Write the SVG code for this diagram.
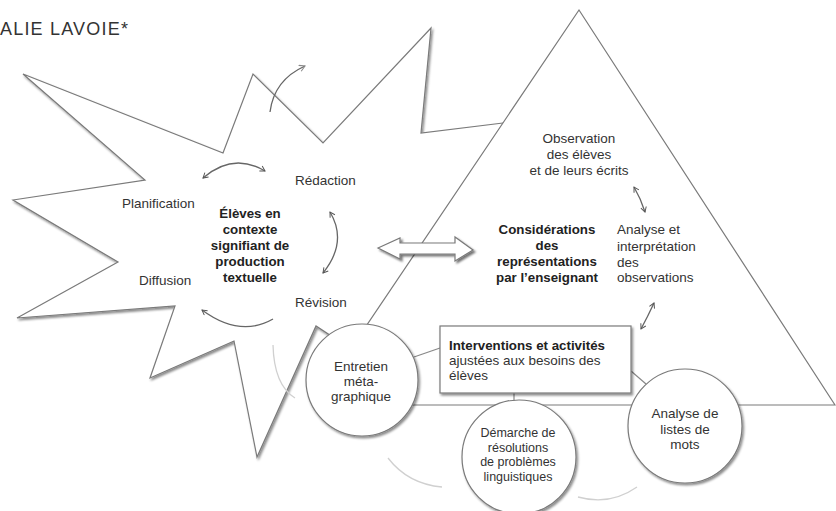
<svg xmlns="http://www.w3.org/2000/svg" width="836" height="511" viewBox="0 0 836 511">
<defs>
<filter id="sh" x="-10%" y="-10%" width="130%" height="130%">
<feDropShadow dx="1.5" dy="2" stdDeviation="1.2" flood-color="#000" flood-opacity="0.45"/>
</filter>
<filter id="sh2" x="-10%" y="-30%" width="130%" height="180%">
<feDropShadow dx="2" dy="2" stdDeviation="0.8" flood-color="#000" flood-opacity="0.55"/>
</filter>
<marker id="ah" viewBox="0 0 10 10" refX="8" refY="5" markerWidth="7" markerHeight="7" orient="auto-start-reverse" markerUnits="userSpaceOnUse">
<path d="M1,1 L8,5 L1,9" fill="none" stroke="#555" stroke-width="1.4"/>
</marker>
<marker id="ahl" viewBox="0 0 10 10" refX="8" refY="5" markerWidth="8" markerHeight="8" orient="auto-start-reverse" markerUnits="userSpaceOnUse">
<path d="M1,1 L8,5 L1,9" fill="none" stroke="#888" stroke-width="1.3"/>
</marker>
</defs>
<style>
.t{font-family:"Liberation Sans",Arial,sans-serif;font-size:13.5px;fill:#333}
.s{font-size:12.5px}
.b{font-family:"Liberation Sans",Arial,sans-serif;font-size:13.3px;font-weight:bold;fill:#222}
.c{text-anchor:middle}
.shape{fill:#fff;stroke:#7a7a7a;stroke-width:1.2}
.arc{fill:none;stroke:#666;stroke-width:1.3}
.faint{fill:none;stroke:#d0d0d0;stroke-width:1.3}
.link{fill:none;stroke:#888;stroke-width:1.2}
</style>
<rect width="836" height="511" fill="#fff"/>
<text x="0" y="35" style="font-family:'Liberation Sans',Arial,sans-serif;font-size:18px;letter-spacing:1.2px;fill:#333">ALIE LAVOIE*</text>

<g id="star">
<path class="shape" filter="url(#sh)" d="M23,74 L223,153 L253,74 L323,143 L431,28 L421,133 L503,123 L540,123 L420,330 L345,345 L316,326 L257,457 L234,341 L150,378 L175,306 L17,318 L118,262 L13,200 L145,180 Z"/>
</g>

<g id="triangle">
<polygon class="shape" points="579,10 835,405 313,405"/>
<line x1="313" y1="405" x2="835" y2="405" stroke="#666" stroke-width="1.6" filter="url(#sh2)"/>
</g>

<g id="faint-arcs">
<path class="faint" d="M273,345 Q274,385 295,398"/>
<path class="faint" d="M388,458 Q408,484 442,487"/>
<path class="faint" d="M578,497 Q610,506 637,487"/>
</g>

<g id="connectors">
<path class="arc" d="M203,178 Q233,152 265,171" marker-start="url(#ah)" marker-end="url(#ah)"/>
<path class="arc" d="M330,212 Q348,242 323,273" marker-start="url(#ah)" marker-end="url(#ah)"/>
<path class="arc" d="M273,319 Q240,338 202,310" marker-end="url(#ah)"/>
<path class="arc" d="M270,112 Q274,80 305,66" stroke="#999" marker-end="url(#ahl)"/>
<path class="arc" d="M634,187 Q641,199 645,212" marker-start="url(#ah)" marker-end="url(#ah)"/>
<path class="arc" d="M654,303 Q648,316 641,329" marker-start="url(#ah)" marker-end="url(#ah)"/>
<line class="link" x1="414" y1="357" x2="440" y2="348"/>
<line class="link" x1="514" y1="393" x2="514" y2="402"/>
<line class="link" x1="631" y1="371" x2="646" y2="384"/>
</g>

<g id="double-arrow">
<polygon class="shape" filter="url(#sh2)" points="378,248 400,238 400,243 455,243 455,237 473,250 455,261 455,254 400,254 400,259"/>
</g>

<g id="planification"><text class="t" x="122" y="208">Planification</text></g>
<g id="redaction"><text class="t" x="295" y="185">Rédaction</text></g>
<g id="diffusion"><text class="t" x="139" y="285">Diffusion</text></g>
<g id="revision"><text class="t" x="295" y="307">Révision</text></g>

<g id="eleves">
<text class="b c" x="250" y="218">Élèves en</text>
<text class="b c" x="250" y="234">contexte</text>
<text class="b c" x="250" y="250">signifiant de</text>
<text class="b c" x="250" y="266">production</text>
<text class="b c" x="250" y="282">textuelle</text>
</g>

<g id="observation">
<text class="t c" x="579" y="143">Observation</text>
<text class="t c" x="579" y="159">des élèves</text>
<text class="t c" x="579" y="175">et de leurs écrits</text>
</g>

<g id="considerations">
<text class="b c" x="547" y="234">Considérations</text>
<text class="b c" x="547" y="250">des</text>
<text class="b c" x="547" y="266">représentations</text>
<text class="b c" x="547" y="282">par l’enseignant</text>
</g>

<g id="analyse">
<text class="t" x="617" y="234">Analyse et</text>
<text class="t" x="617" y="251">interprétation</text>
<text class="t" x="617" y="267">des</text>
<text class="t" x="617" y="282">observations</text>
</g>

<g id="interventions">
<rect class="shape" filter="url(#sh)" x="440" y="326" width="191" height="67"/>
<text class="b" x="449" y="350">Interventions et activités</text>
<text class="t" x="449" y="365">ajustées aux besoins des</text>
<text class="t" x="449" y="380">élèves</text>
</g>

<g id="entretien">
<circle class="shape" filter="url(#sh)" cx="362" cy="380" r="56"/>
<text class="t c" x="361" y="371">Entretien</text>
<text class="t c" x="361" y="386">méta-</text>
<text class="t c" x="361" y="401">graphique</text>
</g>

<g id="demarche">
<circle class="shape" filter="url(#sh)" cx="519" cy="457" r="57"/>
<text class="t s c" x="518" y="437">Démarche de</text>
<text class="t s c" x="518" y="451.5">résolutions</text>
<text class="t s c" x="518" y="466">de problèmes</text>
<text class="t s c" x="518" y="480.5">linguistiques</text>
</g>

<g id="listes">
<circle class="shape" filter="url(#sh)" cx="685" cy="426" r="57"/>
<text class="t c" x="685" y="418">Analyse de</text>
<text class="t c" x="685" y="434">listes de</text>
<text class="t c" x="685" y="449">mots</text>
</g>
</svg>
